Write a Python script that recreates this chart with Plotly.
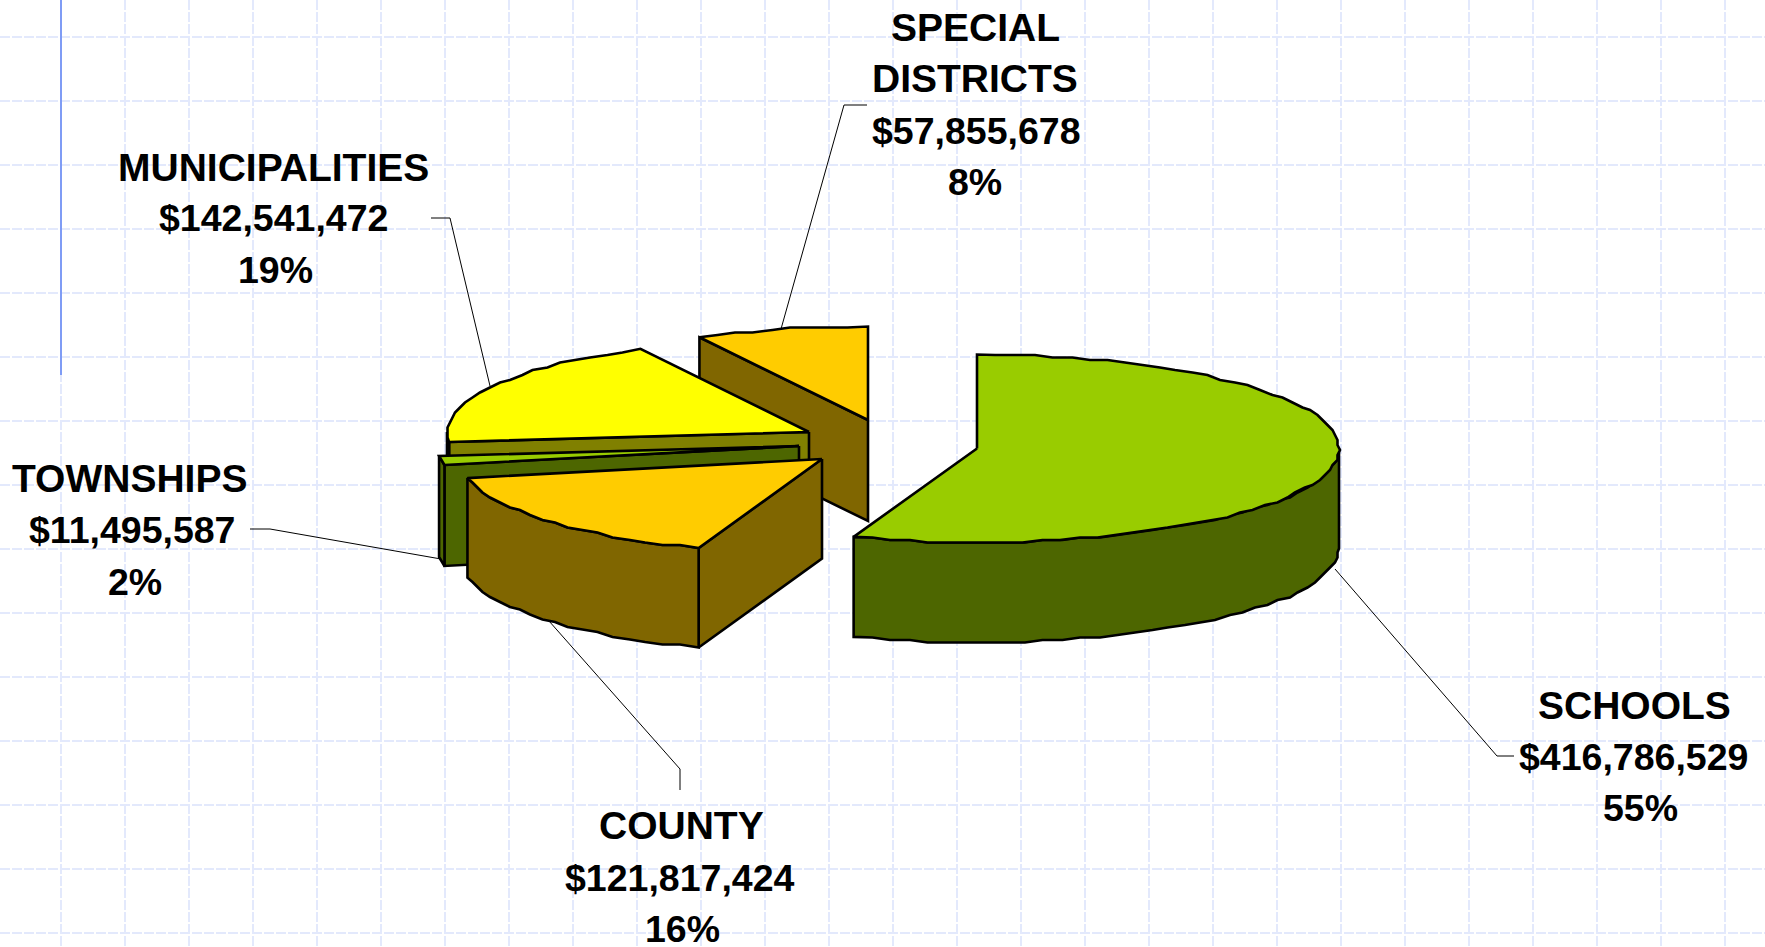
import math
import plotly.graph_objects as go

# ---- data ----
categories = ["SCHOOLS", "COUNTY", "TOWNSHIPS", "MUNICIPALITIES", "SPECIAL DISTRICTS"]
values = [416786529, 121817424, 11495587, 142541472, 57855678]
percent_labels = ["55%", "16%", "2%", "19%", "8%"]

# ---- styling and layout ----
W, H = 1765, 947
TOP_COL = ["#99CC00", "#FFCC00", "#99CC00", "#FFFF00", "#FFCC00"]
WALL_COL = ["#4D6600", "#806600", "#4D6600", "#808000", "#806600"]
CENTERS = [(977, 448.5), (822, 459), (799, 446), (809, 432), (868, 420)]
RX = 362
RYS = [94, 94.7, 94, 94, 93.5]
DEPTHS = [100, 99.5, 101, 101, 101]
STEP_DEG, SNAP = 3.0, 2.5
FONT = "Liberation Sans, Arial, sans-serif"
CAP_SIZE, NUM_SIZE = 39, 37.5
GRID = "#E3E9FC"

LABEL_POS = [
    [(1634, 705), (1633, 757), (1640, 808)],
    [(681, 825), (680, 878), (682, 929)],
    [(129, 478), (132, 530), (135, 582)],
    [(273.5, 167), (273.5, 218), (275, 270)],
    [(975, 27), (975, 78), (976, 131), (975, 182)],
]
LEADERS = [
    [(1335, 569), (1497, 756), (1514, 756)],
    [(549, 621), (680, 769), (680, 790)],
    [(441, 559), (270, 529), (250, 529)],
    [(490, 386), (450, 218), (431, 218)],
    [(781, 329), (844, 105), (867, 105)],
]


def rim(i, t):
    c = CENTERS[i]
    a = math.radians(t)
    return c[0] + RX * math.sin(a), c[1] - RYS[i] * math.cos(a)


def arc(i, t0, t1):
    n = max(1, int(abs(t1 - t0) / STEP_DEG))
    pts = []
    for k in range(n + 1):
        x, y = rim(i, t0 + (t1 - t0) * k / n)
        if 0 < k < n:
            x, y = round(x / SNAP) * SNAP, round(y / SNAP) * SNAP
        pts.append((x, y))
    return pts


def add_poly(fig, pts, color, width=2.6):
    pts = list(pts) + [pts[0]]
    fig.add_trace(go.Scatter(
        x=[p[0] for p in pts], y=[p[1] for p in pts],
        mode="lines", fill="toself", fillcolor=color,
        line=dict(color="black", width=width, simplify=False),
        hoverinfo="skip", showlegend=False,
    ))


def down(pts, d):
    return [(x, y + d) for x, y in pts]


total = sum(values)
spans = []
start = 0.0
for v in values:
    end = start + 360.0 * v / total
    spans.append((start, end))
    start = end

fig = go.Figure()
# painter's order: rear slices first
for i in [4, 3, 2, 1, 0]:
    c = CENTERS[i]
    d = DEPTHS[i]
    t0, t1 = spans[i]
    # radial wall on the clockwise-start side (visible for the left half)
    if 180 < t0 < 360:
        edge = [c, rim(i, t0)]
        add_poly(fig, edge + down(edge, d)[::-1], WALL_COL[i])
    # outer wall on the front half of the ellipse
    w0, w1 = max(t0, 90), min(t1, 270)
    if w1 > w0:
        rimpts = arc(i, w0, w1)
        add_poly(fig, rimpts + down(rimpts, d)[::-1], WALL_COL[i])
    # top face
    add_poly(fig, [c] + arc(i, t0, t1), TOP_COL[i])

for path in LEADERS:
    fig.add_trace(go.Scatter(
        x=[p[0] for p in path], y=[p[1] for p in path], mode="lines",
        line=dict(color="black", width=1), hoverinfo="skip", showlegend=False,
    ))

# blue rule at upper left
fig.add_shape(type="line", x0=61, x1=61, y0=0, y1=375,
              line=dict(color="#7F9CF5", width=2), layer="above")

for i, name in enumerate(categories):
    if name == "SPECIAL DISTRICTS":
        lines = ["SPECIAL", "DISTRICTS"]
    else:
        lines = [name]
    sizes = [CAP_SIZE] * len(lines) + [NUM_SIZE, NUM_SIZE]
    lines += [f"${values[i]:,}", percent_labels[i]]
    for text, (x, y), size in zip(lines, LABEL_POS[i], sizes):
        fig.add_annotation(x=x, y=y, text=f"<b>{text}</b>", showarrow=False,
                           xanchor="center", yanchor="middle",
                           font=dict(family=FONT, size=size, color="black"))

axis = dict(showticklabels=False, ticks="", zeroline=False, showline=False, showgrid=True,
            gridcolor=GRID, gridwidth=1.5, griddash="10px,2px", dtick=64, fixedrange=True)
fig.update_layout(
    width=W, height=H, margin=dict(l=0, r=0, t=0, b=0),
    paper_bgcolor="white", plot_bgcolor="white", showlegend=False,
    xaxis=dict(range=[0, W], tick0=61, **axis),
    yaxis=dict(range=[H, 0], tick0=37, **axis),
)
fig.write_html("out.html", config={"displayModeBar": False},
               post_script="document.body.style.margin='0';document.body.style.overflow='hidden';")
